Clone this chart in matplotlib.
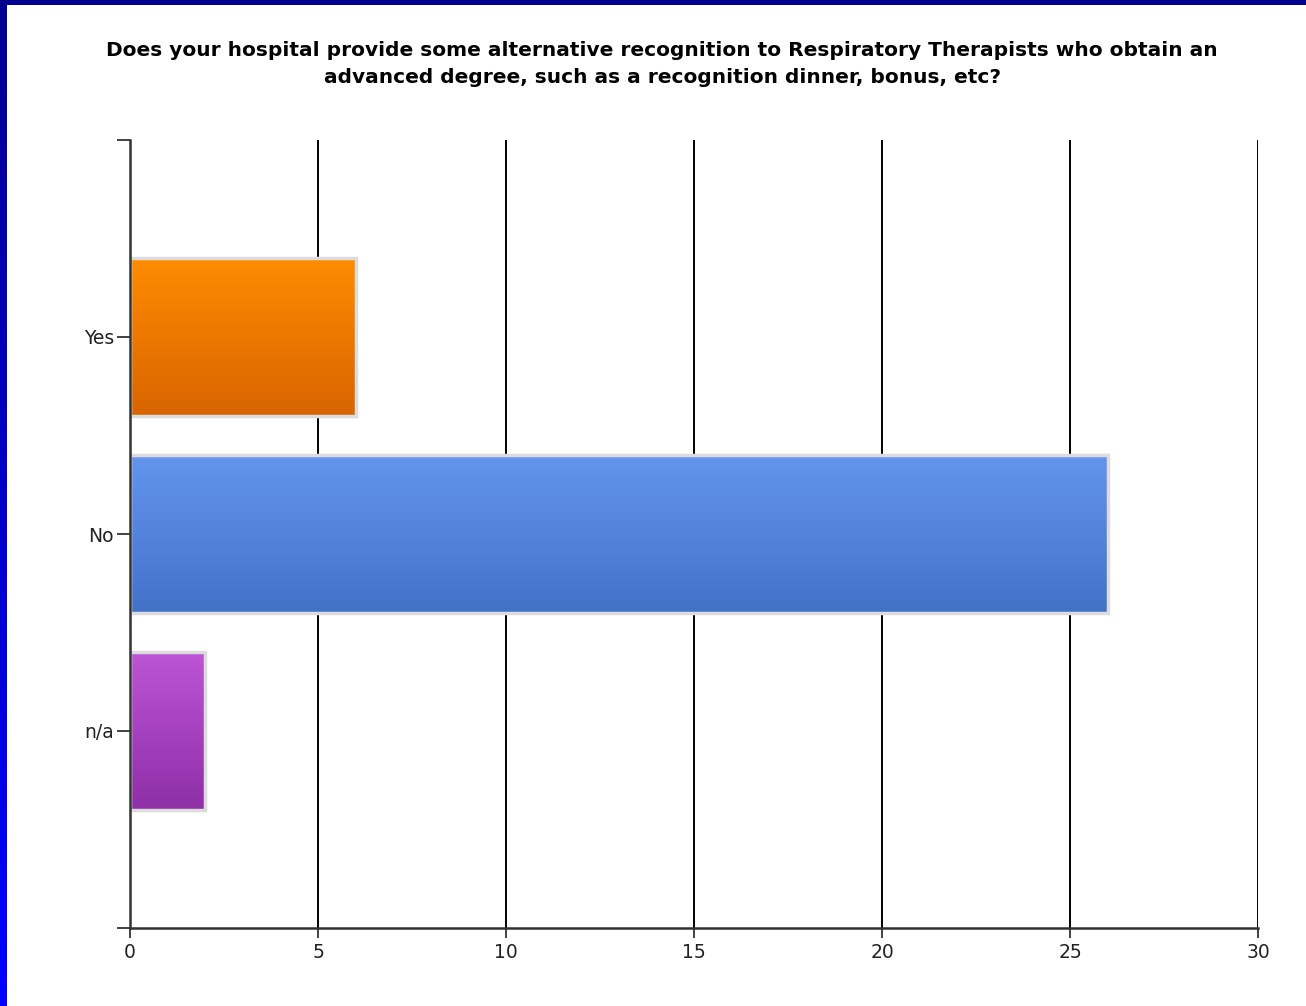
import numpy as np
import matplotlib.pyplot as plt
import matplotlib.colors as mcolors

# data
categories = ["Yes", "No", "n/a"]
counts = [6, 26, 2]
top_colors = ["#FF8C00", "#6495ED", "#BC55D6"]
bottom_colors = ["#D86400", "#4272C8", "#8E2FA6"]
title = ("Does your hospital provide some alternative recognition to Respiratory Therapists who obtain an\n"
         "advanced degree, such as a recognition dinner, bonus, etc?")

fig = plt.figure(figsize=(13.06, 10.06), dpi=100)
fig.patch.set_facecolor("white")

# blue frame on top and left edge
top_ax = fig.add_axes([0, 1 - 5 / 1006, 1, 5 / 1006])
top_ax.set_axis_off()
top_ax.add_patch(plt.Rectangle((0, 0), 1, 1, color="#000090", transform=top_ax.transAxes))
left_ax = fig.add_axes([0, 0, 7 / 1306, 1])
left_ax.set_axis_off()
grad = np.linspace(0, 1, 256).reshape(-1, 1)
left_cmap = mcolors.LinearSegmentedColormap.from_list("frame", ["#000090", "#0000FF"])
left_ax.imshow(grad, aspect="auto", cmap=left_cmap, extent=(0, 1, 0, 1), origin="upper")

ax = fig.add_axes([130 / 1306, 1 - 928 / 1006, (1258 - 130) / 1306, (928 - 140) / 1006])

ypos = np.arange(1, len(categories) + 1)
bars = ax.barh(ypos, counts, height=0.8, facecolor="none",
               edgecolor="#DCDCDC", linewidth=2.5, zorder=3)

# gradient fill for each bar
for b, c1, c2 in zip(bars, top_colors, bottom_colors):
    x0, y0 = b.get_x(), b.get_y()
    w, h = b.get_width(), b.get_height()
    cmap = mcolors.LinearSegmentedColormap.from_list("g", [c1, c2])
    ax.imshow(grad, aspect="auto", cmap=cmap, extent=(x0, x0 + w, y0 + h, y0),
              origin="upper", zorder=2)

ax.set_xlim(0, 30)
ax.set_ylim(4, 0)
ax.set_xticks(np.arange(0, 31, 5))
ax.set_yticks([0, 1, 2, 3, 4])
ax.set_yticklabels([""] + categories + [""])

ax.grid(axis="x", color="black", linewidth=1.4)
ax.set_axisbelow(True)
for s in ["top", "right"]:
    ax.spines[s].set_visible(False)
for s in ["left", "bottom"]:
    ax.spines[s].set_color("#333333")
    ax.spines[s].set_linewidth(1.8)
    ax.spines[s].set_zorder(4)

ax.tick_params(axis="y", length=9.5, width=1.3, color="#333333", labelsize=13.5, pad=2)
ax.tick_params(axis="x", length=7.5, width=1.3, color="#333333", labelsize=13.5, pad=3)
for lab in ax.get_xticklabels() + ax.get_yticklabels():
    lab.set_color("#222222")

fig.text(662 / 1306, 1 - 64 / 1006, title, ha="center", va="center",
         fontsize=14.5, fontweight="bold", linespacing=1.55)

fig.savefig("out.png", dpi=100, facecolor="white")
